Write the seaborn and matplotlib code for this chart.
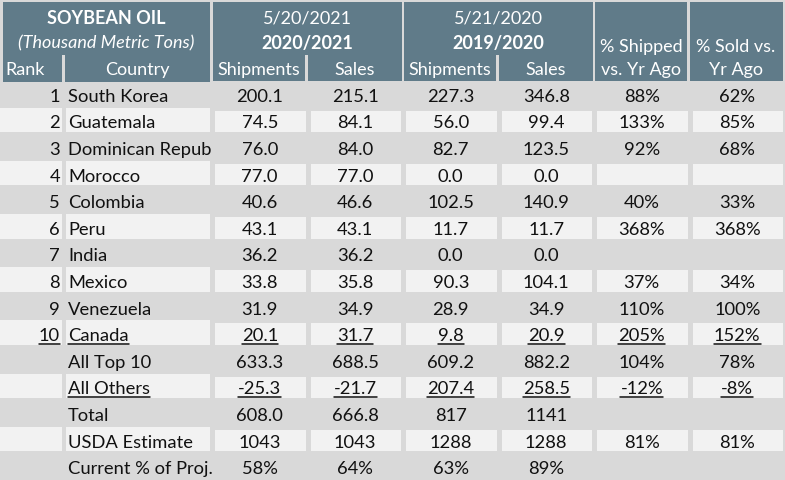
import numpy as np
import matplotlib
matplotlib.use("Agg")
import matplotlib.pyplot as plt
import seaborn as sns
from matplotlib.colors import ListedColormap
from matplotlib.patches import Rectangle
from matplotlib.lines import Line2D
from matplotlib.transforms import IdentityTransform

# Datos de la tabla
ranks = ["1", "2", "3", "4", "5", "6", "7", "8", "9", "10", "", "", "", "", ""]
countries = ["South Korea", "Guatemala", "Dominican Republic", "Morocco", "Colombia",
             "Peru", "India", "Mexico", "Venezuela", "Canada",
             "All Top 10", "All Others", "Total", "USDA Estimate", "Current % of Proj."]
ship_2021 = ["200.1", "74.5", "76.0", "77.0", "40.6", "43.1", "36.2", "33.8", "31.9", "20.1",
             "633.3", "-25.3", "608.0", "1043", "58%"]
sales_2021 = ["215.1", "84.1", "84.0", "77.0", "46.6", "43.1", "36.2", "35.8", "34.9", "31.7",
              "688.5", "-21.7", "666.8", "1043", "64%"]
ship_2020 = ["227.3", "56.0", "82.7", "0.0", "102.5", "11.7", "0.0", "90.3", "28.9", "9.8",
             "609.2", "207.4", "817", "1288", "63%"]
sales_2020 = ["346.8", "99.4", "123.5", "0.0", "140.9", "11.7", "0.0", "104.1", "34.9", "20.9",
              "882.2", "258.5", "1141", "1288", "89%"]
pct_shipped = ["88%", "133%", "92%", "", "40%", "368%", "", "37%", "110%", "205%",
               "104%", "-12%", "", "81%", ""]
pct_sold = ["62%", "85%", "68%", "", "33%", "368%", "", "34%", "100%", "152%",
            "78%", "-8%", "", "81%", ""]
underlined_rows = [9, 11]

HEADER = "#607b89"
GREY = "#d9d9d9"
LIGHT = "#f2f2f2"
INK = "#111111"

sns.set_theme(style="white")
plt.rcParams["font.family"] = ["Lato", "DejaVu Sans"]
FS = 13.2
FSH = 13

W, H = 785, 480
fig = plt.figure(figsize=(W / 100, H / 100), dpi=100, facecolor=GREY)

# Eje de fondo en coordenadas de pixel
ax = fig.add_axes([0, 0, 1, 1])
ax.set_xlim(0, W)
ax.set_ylim(H, 0)
ax.set_axis_off()
ax.set_facecolor(GREY)

top0, rh = 81, 26.6
n = len(countries)
dy = 2.5  # el texto va un poco por debajo del centro de la fila

# Encabezado
blocks = [(3, 210), (213, 402), (404, 593), (595, 687), (690, 783)]
for x0, x1 in blocks:
    ax.add_patch(Rectangle((x0, 2), x1 - x0, 80, color=HEADER, lw=0))
for gx in [(62, 65), (305, 307.5), (496, 498.5)]:
    ax.add_patch(Rectangle((gx[0], 55), gx[1] - gx[0], 27, color=GREY, lw=0))

hw = dict(color="white", fontsize=FSH, ha="center", va="center")
ax.text(106, 18, "SOYBEAN OIL", fontweight="bold", **hw)
ax.text(106, 43, "(Thousand Metric Tons)", fontstyle="italic", **hw)
ax.text(5, 70, "Rank", **{**hw, "ha": "left"})
ax.text(137, 70, "Country", **hw)
ax.text(307, 18, "5/20/2021", **hw)
ax.text(307, 43, "2020/2021", fontweight="bold", **hw)
ax.text(259, 70, "Shipments", **hw)
ax.text(355, 70, "Sales", **hw)
ax.text(498, 18, "5/21/2020", **hw)
ax.text(498, 43, "2019/2020", fontweight="bold", **hw)
ax.text(450, 70, "Shipments", **hw)
ax.text(546, 70, "Sales", **hw)
ax.text(641, 47, "% Shipped", **hw)
ax.text(641, 70, "vs. Yr Ago", **hw)
ax.text(736, 47, "% Sold vs.", **hw)
ax.text(736, 70, "Yr Ago", **hw)

# Columnas Rank y Country
left_texts = []
for i in range(n):
    top = top0 + i * rh
    if i % 2 == 1:
        ax.add_patch(Rectangle((0, top), 62, rh - 2, color=LIGHT, lw=0))
        ax.add_patch(Rectangle((66, top), 144, rh - 2, color=LIGHT, lw=0))
    yc = top + rh / 2 + dy
    t1 = ax.text(60, yc, ranks[i], ha="right", va="center", color=INK, fontsize=FS)
    t2 = ax.text(68, yc, countries[i], ha="left", va="center", color=INK, fontsize=FS)
    clip = Rectangle((66, top), 145, rh, transform=ax.transData)
    t2.set_clip_path(clip)
    if i in underlined_rows:
        left_texts += [t1, t2]

# Bloque numerico con heatmap
labels = np.array([ship_2021, sales_2021, ship_2020, sales_2020, pct_shipped, pct_sold]).T
stripe = np.array([[i % 2] * labels.shape[1] for i in range(n)])
axh = fig.add_axes([212 / W, 0, (W - 212) / W, (H - top0) / H])
sns.heatmap(stripe, ax=axh, cmap=ListedColormap([GREY, LIGHT]), cbar=False,
            annot=labels, fmt="", linewidths=2.5, linecolor=GREY,
            annot_kws={"color": INK, "fontsize": FS},
            xticklabels=False, yticklabels=False)
axh.set_axis_off()
for t in axh.texts:
    px, py = t.get_position()
    t.set_position((px, py + dy / rh))

# Subrayados
fig.canvas.draw()
renderer = fig.canvas.get_renderer()
under = list(left_texts)
ncol = labels.shape[1]
for k, t in enumerate(axh.texts):
    r = k // ncol
    if r in underlined_rows and t.get_text():
        under.append(t)
for t in under:
    if not t.get_text():
        continue
    bb = t.get_window_extent(renderer)
    y = bb.y0 + 0.5
    fig.add_artist(Line2D([bb.x0, bb.x1], [y, y], color=INK, lw=1.1,
                          transform=IdentityTransform()))

fig.savefig("out.png", dpi=100, facecolor=GREY)
